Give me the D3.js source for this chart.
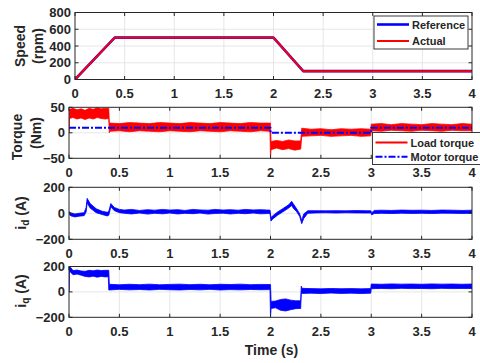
<!DOCTYPE html>
<html><head><meta charset="utf-8">
<script src="https://cdn.jsdelivr.net/npm/d3@7"></script>
<style>
body{margin:0;background:#fff}
svg{display:block;font-family:"Liberation Sans",Arial,sans-serif;font-weight:bold}
</style>
</head><body><svg id="c" width="480" height="363"></svg>
<script>
// ---------- data ----------
const xTicks = [0, 0.5, 1, 1.5, 2, 2.5, 3, 3.5, 4];
const xTickLabels = ["0", "0.5", "1", "1.5", "2", "2.5", "3", "3.5", "4"];
const speedTicks = [0, 200, 400, 600, 800];
const torqueTicks = [-50, 0, 50];
const currentTicks = [-200, 0, 200];

const speedTime = [0, 0.4, 2.0, 2.3, 4.0];
const speedReference = [0, 500, 500, 100, 100];
const speedActual = [0, 500, 500, 100, 100];

const motorTorqueTime = [0, 2.0, 2.0, 3.0, 3.0, 4.0];
const motorTorque = [10, 10, 0, 0, 10, 10];

// noisy signals given as read-off envelopes (low / high) over time
const loadTime = [0, 0.004, 0.04, 0.08, 0.12, 0.16, 0.2, 0.24, 0.28, 0.32, 0.36, 0.395, 0.4, 0.405, 0.5, 0.6, 0.7, 0.8, 0.9, 1.0, 1.1, 1.2, 1.3, 1.4, 1.5, 1.6, 1.7, 1.8, 1.9, 1.995, 2.0, 2.005, 2.06, 2.12, 2.18, 2.24, 2.3, 2.31, 2.4, 2.5, 2.6, 2.7, 2.8, 2.9, 2.995, 3.0, 3.1, 3.2, 3.3, 3.4, 3.5, 3.6, 3.7, 3.8, 3.9, 4.0];
const loadLow  = [0, 28, 30, 27, 29, 26, 29, 27, 30, 28, 27, 28, 0, 3, 4, 2, 4, 3, 2, 4, 3, 2, 4, 3, 2, 4, 3, 2, 4, 3, -50, -33, -30, -33, -31, -34, -32, -7, -6, -5, -7, -6, -5, -7, -6, 4, 3, 5, 4, 3, 5, 4, 3, 5, 4, 4];
const loadHigh = [8, 46, 48, 45, 47, 44, 48, 46, 49, 47, 48, 48, 20, 19, 18, 20, 19, 18, 20, 19, 18, 20, 19, 18, 20, 19, 18, 20, 19, 19, 19, -17, -15, -17, -14, -16, -16, 9, 7, 8, 6, 8, 7, 8, 7, 17, 18, 16, 18, 17, 16, 18, 17, 16, 18, 17];

const idTime = [0, 0.02, 0.06, 0.1, 0.15, 0.17, 0.18, 0.21, 0.27, 0.33, 0.38, 0.395, 0.415, 0.45, 0.5, 0.55, 0.62, 0.7, 0.78, 0.85, 0.93, 1.0, 1.08, 1.15, 1.23, 1.3, 1.38, 1.45, 1.53, 1.6, 1.68, 1.75, 1.83, 1.9, 1.97, 1.995, 2.005, 2.02, 2.07, 2.12, 2.18, 2.21, 2.225, 2.26, 2.29, 2.31, 2.33, 2.37, 2.45, 2.55, 2.65, 2.75, 2.85, 2.95, 2.995, 3.005, 3.03, 3.1, 3.2, 3.3, 3.4, 3.5, 3.6, 3.7, 3.8, 3.9, 4.0];
const idLow  = [-8, -20, -28, -22, -18, 10, 80, 40, 5, -10, -20, -15, 50, 20, 5, 0, -5, 2, -6, 0, -4, 2, -5, 0, -3, 2, -6, -1, 1, -5, 0, -3, 2, -4, -2, -2, -60, -45, -15, 10, 40, 60, 40, 12, -25, -80, -40, 0, 3, 4, 2, 4, 3, 2, 3, -12, -2, 0, -2, 1, -1, 0, -2, 1, 0, -1, 0];
const idHigh = [12, 2, -5, 0, 5, 45, 115, 75, 35, 15, 8, 15, 75, 45, 30, 25, 30, 22, 28, 24, 30, 25, 28, 22, 30, 26, 24, 30, 25, 28, 24, 30, 26, 28, 25, 25, -35, -20, 10, 35, 65, 92, 75, 35, -5, -55, -5, 20, 20, 19, 20, 19, 21, 20, 20, 5, 22, 24, 22, 25, 23, 24, 22, 25, 24, 22, 24];

const iqTime = [0, 0.003, 0.04, 0.08, 0.12, 0.16, 0.2, 0.24, 0.28, 0.32, 0.36, 0.39, 0.395, 0.4, 0.5, 0.6, 0.7, 0.8, 0.9, 1.0, 1.1, 1.2, 1.3, 1.4, 1.5, 1.6, 1.7, 1.8, 1.9, 1.995, 2.0, 2.006, 2.05, 2.1, 2.15, 2.2, 2.25, 2.3, 2.305, 2.315, 2.4, 2.5, 2.6, 2.7, 2.8, 2.9, 2.995, 3.0, 3.1, 3.2, 3.3, 3.4, 3.5, 3.6, 3.7, 3.8, 3.9, 4.0];
const iqLow  = [0, 165, 135, 140, 132, 122, 118, 124, 116, 122, 118, 120, 15, 15, 20, 16, 19, 15, 20, 17, 15, 19, 16, 20, 15, 18, 16, 19, 17, 18, -200, -130, -125, -145, -150, -140, -132, -130, -10, -12, -10, -13, -9, -12, -10, -13, -10, 25, 27, 25, 28, 26, 27, 25, 28, 26, 27, 27];
const iqHigh = [200, 205, 168, 172, 165, 162, 170, 166, 172, 168, 170, 170, 170, 60, 56, 60, 57, 61, 56, 59, 61, 57, 60, 56, 60, 58, 61, 57, 59, 58, 58, -75, -72, -60, -55, -65, -70, -70, 45, 28, 26, 24, 27, 25, 26, 24, 26, 62, 60, 63, 61, 62, 60, 63, 61, 62, 60, 62];

// ---------- drawing ----------
const svg = d3.select("#c");
const ink = "#262626";
const RED = "#ff0000", BLUE = "#0000ff";

const panels = [
  {id: "p1", x0: 75, x1: 472, y0: 79.5, y1: 12.5, dom: [0, 800], ticks: speedTicks},
  {id: "p2", x0: 69, x1: 472, y0: 158.3, y1: 107.3, dom: [-50, 50], ticks: torqueTicks},
  {id: "p3", x0: 69, x1: 472, y0: 239.3, y1: 187.3, dom: [-200, 200], ticks: currentTicks},
  {id: "p4", x0: 69, x1: 472, y0: 317.3, y1: 266.5, dom: [-200, 200], ticks: currentTicks}
];

const defs = svg.append("defs");
panels.forEach(p => {
  p.x = d3.scaleLinear().domain([0, 4]).range([p.x0, p.x1]);
  p.y = d3.scaleLinear().domain(p.dom).range([p.y0, p.y1]);
  defs.append("clipPath").attr("id", "clip-" + p.id)
    .append("rect").attr("x", p.x0).attr("y", p.y1).attr("width", p.x1 - p.x0).attr("height", p.y0 - p.y1);
  const g = svg.append("g");
  g.selectAll(".vg").data(xTicks.slice(1, -1)).join("line")
    .attr("x1", d => p.x(d)).attr("x2", d => p.x(d)).attr("y1", p.y1).attr("y2", p.y0)
    .attr("stroke", "#e3e3e3").attr("stroke-width", 0.9);
  g.selectAll(".hg").data(p.ticks.slice(1, -1)).join("line")
    .attr("y1", d => p.y(d)).attr("y2", d => p.y(d)).attr("x1", p.x0).attr("x2", p.x1)
    .attr("stroke", "#e3e3e3").attr("stroke-width", 0.9);
  p.plot = g.append("g").attr("clip-path", "url(#clip-" + p.id + ")");
});

function frame(p) {
  const g = svg.append("g");
  g.append("rect").attr("x", p.x0).attr("y", p.y1).attr("width", p.x1 - p.x0).attr("height", p.y0 - p.y1)
    .attr("fill", "none").attr("stroke", ink).attr("stroke-width", 1);
  const L = 3.5;
  xTicks.forEach(t => {
    g.append("line").attr("x1", p.x(t)).attr("x2", p.x(t)).attr("y1", p.y0).attr("y2", p.y0 - L).attr("stroke", ink);
    g.append("line").attr("x1", p.x(t)).attr("x2", p.x(t)).attr("y1", p.y1).attr("y2", p.y1 + L).attr("stroke", ink);
  });
  p.ticks.forEach(v => {
    g.append("line").attr("y1", p.y(v)).attr("y2", p.y(v)).attr("x1", p.x0).attr("x2", p.x0 + L).attr("stroke", ink);
    g.append("line").attr("y1", p.y(v)).attr("y2", p.y(v)).attr("x1", p.x1).attr("x2", p.x1 - L).attr("stroke", ink);
  });
  g.selectAll(".xl").data(xTicks).join("text")
    .attr("x", d => p.x(d)).attr("y", p.y0 + 14).attr("dominant-baseline", "central")
    .attr("text-anchor", "middle").attr("font-size", 13).attr("fill", ink)
    .text((d, i) => xTickLabels[i]);
  g.selectAll(".yl").data(p.ticks).join("text")
    .attr("x", p.x0 - 4).attr("y", d => p.y(d)).attr("dominant-baseline", "central")
    .attr("text-anchor", "end").attr("font-size", 13).attr("fill", ink)
    .text(d => d3.format("d")(d));
}

const zipS = (t, v) => t.map((d, i) => ({t: d, v: v[i]}));
const zipB = (t, lo, hi) => t.map((d, i) => ({t: d, lo: lo[i], hi: hi[i]}));

function lineOn(p, data, color, w, dash) {
  const l = d3.line().x(d => p.x(d.t)).y(d => p.y(d.v));
  const path = p.plot.append("path").datum(data).attr("d", l)
    .attr("fill", "none").attr("stroke", color).attr("stroke-width", w).attr("stroke-linejoin", "round");
  if (dash) path.attr("stroke-dasharray", dash);
}
function bandOn(p, data, color) {
  const a = d3.area().x(d => p.x(d.t)).y0(d => p.y(d.lo)).y1(d => p.y(d.hi));
  p.plot.append("path").datum(data).attr("d", a)
    .attr("fill", color).attr("stroke", color).attr("stroke-width", 0.8).attr("stroke-linejoin", "round");
}

const P1 = panels[0], P2 = panels[1], P3 = panels[2], P4 = panels[3];
lineOn(P1, zipS(speedTime, speedReference), BLUE, 2.6);
lineOn(P1, zipS(speedTime, speedActual), RED, 2);

bandOn(P2, zipB(loadTime, loadLow, loadHigh), RED);
lineOn(P2, zipS(motorTorqueTime, motorTorque), BLUE, 2, "7,2,2,2");

bandOn(P3, zipB(idTime, idLow, idHigh), BLUE);
bandOn(P4, zipB(iqTime, iqLow, iqHigh), BLUE);

panels.forEach(frame);

function ylab(x, y, parts) {
  const t = svg.append("text").attr("transform", `translate(${x},${y}) rotate(-90)`)
    .attr("text-anchor", "middle").attr("dominant-baseline", "central")
    .attr("font-size", 14).attr("fill", ink);
  parts.forEach(pt => {
    const s = t.append("tspan").text(pt.s);
    if (pt.sub) s.attr("font-size", 10).attr("dy", 4);
    if (pt.back) s.attr("dy", -4);
  });
}
ylab(19.5, 46, [{s: "Speed"}]);
ylab(37.5, 46, [{s: "(rpm)"}]);
ylab(17, 137, [{s: "Torque"}]);
ylab(36, 133, [{s: "(Nm)"}]);
ylab(21, 213, [{s: "i"}, {s: "d", sub: true}, {s: " (A)", back: true}]);
ylab(21, 291, [{s: "i"}, {s: "q", sub: true}, {s: " (A)", back: true}]);

svg.append("text").attr("x", 271.5).attr("y", 350).attr("text-anchor", "middle")
  .attr("dominant-baseline", "central").attr("font-size", 14).attr("fill", ink).text("Time (s)");

const legendNames1 = ["Reference", "Actual"];
const legendNames2 = ["Load torque", "Motor torque"];
function legend(bx, by, bw, bh, items) {
  const g = svg.append("g");
  g.append("rect").attr("x", bx).attr("y", by).attr("width", bw).attr("height", bh)
    .attr("fill", "#fff").attr("stroke", ink).attr("stroke-width", 0.9);
  items.forEach(it => {
    const ln = g.append("line").attr("x1", bx + 3).attr("x2", bx + 35).attr("y1", it.y).attr("y2", it.y)
      .attr("stroke", it.color).attr("stroke-width", it.w);
    if (it.dash) ln.attr("stroke-dasharray", it.dash);
    g.append("text").attr("x", bx + 38).attr("y", it.y).attr("dominant-baseline", "central")
      .attr("font-size", 11).attr("fill", ink).text(it.name);
  });
}
legend(374, 16, 94, 33, [
  {name: legendNames1[0], color: BLUE, w: 2.6, y: 24.5},
  {name: legendNames1[1], color: RED, w: 2, y: 41}
]);
legend(372.5, 132.5, 115, 32, [
  {name: legendNames2[0], color: RED, w: 2, y: 142.5},
  {name: legendNames2[1], color: BLUE, w: 2, y: 156.7, dash: "7,2,2,2"}
]);
</script>
</body></html>
